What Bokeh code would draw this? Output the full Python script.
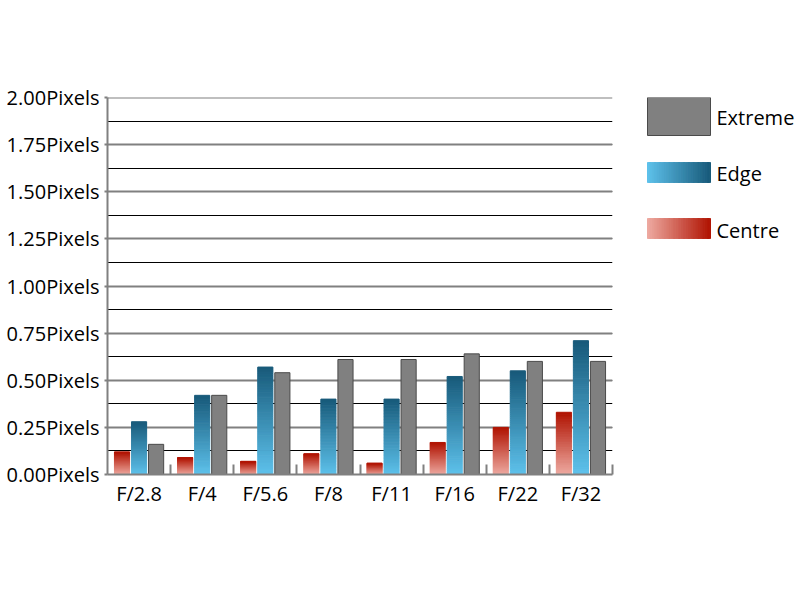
from bokeh.plotting import figure
from bokeh.models import Range1d, SingleIntervalTicker, FixedTicker, PrintfTickFormatter, ColumnDataSource, Span
from bokeh.layouts import row
from bokeh.core.properties import value
from bokeh.embed import file_html
from bokeh.resources import INLINE

categories = ["F/2.8", "F/4", "F/5.6", "F/8", "F/11", "F/16", "F/22", "F/32"]
centre = [0.12, 0.09, 0.07, 0.11, 0.06, 0.17, 0.25, 0.33]
edge = [0.28, 0.42, 0.57, 0.40, 0.40, 0.52, 0.55, 0.71]
extreme = [0.16, 0.42, 0.54, 0.61, 0.61, 0.64, 0.60, 0.60]
series_names = ["Extreme", "Edge", "Centre"]
y_max = 2.0

FONT = "Open Sans"
N = 50


def hex2rgb(h):
    h = h.lstrip("#")
    return tuple(int(h[i:i + 2], 16) for i in (0, 2, 4))


def lerp(c1, c2, t):
    a, b = hex2rgb(c1), hex2rgb(c2)
    return "#%02x%02x%02x" % tuple(int(round(a[i] + (b[i] - a[i]) * t)) for i in range(3))


EDGE_LIGHT, EDGE_DARK = "#5ec2ec", "#185a7a"
CEN_LIGHT, CEN_DARK = "#eeaba2", "#b01302"

p = figure(width=614, height=530, output_backend="svg", toolbar_location=None,
           x_range=Range1d(0, 8), y_range=Range1d(0, y_max),
           min_border_left=107, min_border_top=97, min_border_bottom=56, min_border_right=2)
p.outline_line_color = None
p.background_fill_color = "white"
p.border_fill_color = "white"

# grid
p.xgrid.visible = False
p.ygrid.grid_line_color = "#808080"
p.ygrid.grid_line_width = 2
p.ygrid.minor_grid_line_color = "#000000"
p.ygrid.minor_grid_line_width = 1
p.add_layout(Span(location=y_max, dimension="width", line_color="#808080", line_width=2))

# y axis
p.yaxis.ticker = SingleIntervalTicker(interval=0.25, num_minor_ticks=2)
p.yaxis.formatter = PrintfTickFormatter(format="%.2fPixels")
p.yaxis.axis_line_color = "#808080"
p.yaxis.axis_line_width = 2
p.yaxis.major_tick_line_color = "#808080"
p.yaxis.major_tick_line_width = 2
p.yaxis.major_tick_out = 3
p.yaxis.major_tick_in = 0
p.yaxis.minor_tick_out = 0
p.yaxis.minor_tick_in = 0
p.yaxis.major_label_standoff = 5
p.yaxis.major_label_text_font = FONT
p.yaxis.major_label_text_font_size = "20px"
p.yaxis.major_label_text_color = "#000000"

# x axis
centers = [i + 0.5 for i in range(len(categories))]
p.xaxis.ticker = FixedTicker(ticks=centers, minor_ticks=list(range(1, len(categories) + 1)))
p.xaxis.major_label_overrides = {c: lab for c, lab in zip(centers, categories)}
p.xaxis.axis_line_color = "#808080"
p.xaxis.axis_line_width = 2
p.xaxis.major_tick_in = 0
p.xaxis.major_tick_out = 0
p.xaxis.minor_tick_in = 10
p.xaxis.minor_tick_out = 0
p.xaxis.minor_tick_line_color = "#808080"
p.xaxis.minor_tick_line_width = 2
p.xaxis.major_label_standoff = 5
p.xaxis.major_label_text_font = FONT
p.xaxis.major_label_text_font_size = "20px"
p.xaxis.major_label_text_color = "#000000"

OFF = 0.27
W = 0.24


def gradient_bars(vals, offset, light, dark):
    xs, bots, tops, cols = [], [], [], []
    for i, v in enumerate(vals):
        for k in range(N):
            xs.append(i + 0.5 + offset)
            bots.append(v * k / N)
            tops.append(v * (k + 1) / N)
            cols.append(lerp(light, dark, (k + 0.5) / N))
    src = ColumnDataSource(dict(x=xs, bottom=bots, top=tops, c=cols))
    p.vbar(x="x", bottom="bottom", top="top", width=W, fill_color="c", line_color="c",
           line_width=1, source=src)


gradient_bars(centre, -OFF, CEN_LIGHT, CEN_DARK)
gradient_bars(edge, 0.0, EDGE_LIGHT, EDGE_DARK)
p.vbar(x=[c + OFF for c in centers], top=extreme, width=W, fill_color="#808080",
       line_color="#4a4a4a", line_width=1)

# legend figure (frame is aligned with the main plot's frame)
L = figure(width=186, height=530, output_backend="svg", toolbar_location=None,
           x_range=Range1d(614, 800), y_range=Range1d(474, 97),
           min_border_left=0, min_border_right=0, min_border_top=97, min_border_bottom=56)
L.axis.visible = False
L.grid.visible = False
L.outline_line_color = None
L.quad(left=[647], right=[710], top=[97], bottom=[135], fill_color="#808080",
       line_color="#4a4a4a", line_width=1)


def legend_grad(y0, y1, light, dark):
    M = 50
    lefts = [647 + 63 * k / M for k in range(M)]
    rights = [647 + 63 * (k + 1) / M for k in range(M)]
    cols = [lerp(light, dark, (k + 0.5) / M) for k in range(M)]
    L.quad(left=lefts, right=rights, top=[y0] * M, bottom=[y1] * M, fill_color=cols,
           line_color=cols, line_width=1)


legend_grad(162, 182, EDGE_LIGHT, EDGE_DARK)
legend_grad(218, 238, CEN_LIGHT, CEN_DARK)
L.text(x=[716, 716, 716], y=[117, 173, 230], text=series_names,
       text_font=value(FONT), text_font_size="20px", text_baseline="middle",
       text_align="left", text_color="#000000")

layout = row(p, L)
open("out.html", "w").write(file_html(layout, INLINE))
